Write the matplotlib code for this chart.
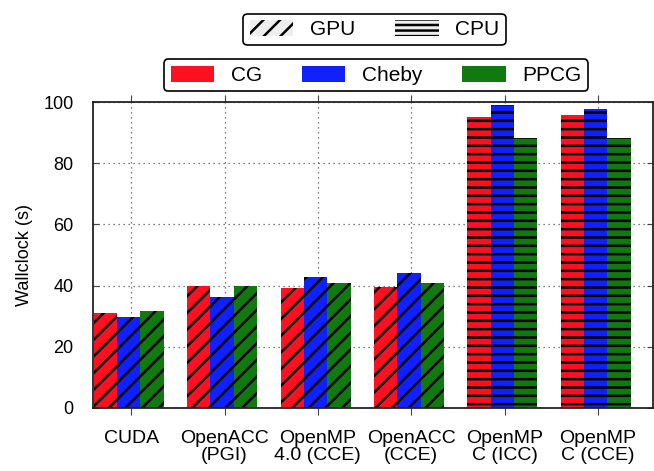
import matplotlib
matplotlib.use("Agg")
import matplotlib.pyplot as plt
from matplotlib.patches import Patch
import numpy as np

plt.rcParams['font.family'] = ['Liberation Sans', 'DejaVu Sans']
plt.rcParams['hatch.linewidth'] = 1.8

categories = ["CUDA", "OpenACC\n(PGI)", "OpenMP\n4.0 (CCE)", "OpenACC\n(CCE)", "OpenMP\nC (ICC)", "OpenMP\nC (CCE)"]
series_names = ["CG", "Cheby", "PPCG"]
cg = [31.1, 39.9, 39.2, 39.5, 95.2, 95.6]
cheby = [29.8, 36.4, 42.9, 44.1, 98.9, 97.6]
ppcg = [31.7, 40.0, 40.8, 40.8, 88.3, 88.1]
device = ["GPU", "GPU", "GPU", "GPU", "CPU", "CPU"]
colors = ["#ff1020", "#1020ff", "#107a10"]
hatches = {"GPU": "//", "CPU": "--"}

fig = plt.figure(figsize=(6.54, 4.71), dpi=100)
ax = fig.add_axes([0.142, 0.1338, 0.8565, 0.6496])

x = np.arange(len(categories))
w = 0.25
for k, vals in enumerate([cg, cheby, ppcg]):
    for i, v in enumerate(vals):
        ax.bar(x[i] - 0.4 + k * w, v, width=w, align='edge', color=colors[k],
               hatch=hatches[device[i]], edgecolor='black', linewidth=0)

ax.set_xlim(-0.41, 5.59)
ax.set_ylim(0, 100)
ax.set_yticks([0, 20, 40, 60, 80, 100])
ax.set_xticks(x)
ax.set_xticklabels(categories, fontsize=14, linespacing=0.95)
ax.tick_params(axis='y', labelsize=13, direction='in', right=True, length=4, pad=14, color='#444444')
ax.tick_params(axis='x', direction='out', top=True, length=5, pad=11, color='#444444')
ax.set_ylabel("Wallclock (s)", fontsize=13, labelpad=7)
ax.grid(True, linestyle=(0, (1, 3)), color='#555555', linewidth=0.9)
ax.set_axisbelow(True)
for s in ax.spines.values():
    s.set_linewidth(1.3)
    s.set_color('#222222')

h1 = [Patch(facecolor='#eeeeee', edgecolor='black', hatch='//', linewidth=0),
      Patch(facecolor='#eeeeee', edgecolor='black', hatch='---', linewidth=0)]
leg1 = fig.legend(h1, ["GPU", "CPU"], loc='upper center', bbox_to_anchor=(0.5726, 0.993),
                  ncol=2, fontsize=15, handlelength=2.1, handleheight=0.8, handletextpad=0.8,
                  columnspacing=1.9, fancybox=True, edgecolor='black', framealpha=1, borderpad=0.3)
leg1.get_frame().set_linewidth(1.2)
h2 = [Patch(facecolor=c, edgecolor='none') for c in colors]
leg2 = fig.legend(h2, series_names, loc='upper center', bbox_to_anchor=(0.575, 0.896),
                  ncol=3, fontsize=15, handlelength=2.1, handleheight=0.8, handletextpad=0.8,
                  columnspacing=1.9, fancybox=True, edgecolor='black', framealpha=1, borderpad=0.3)
leg2.get_frame().set_linewidth(1.2)

fig.savefig("out.png", dpi=100)
